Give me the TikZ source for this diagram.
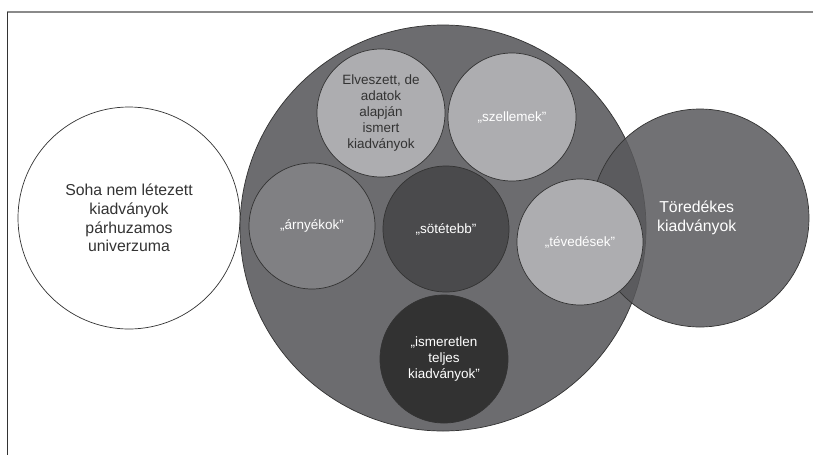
\documentclass[tikz,border=0pt]{standalone}
\usepackage{fontspec}
\setmainfont{Liberation Sans}
\usetikzlibrary{positioning}
\definecolor{framegray}{HTML}{8A8A8A}
\definecolor{edgegray}{HTML}{333333}
\definecolor{outergray}{HTML}{6C6C6F}
\definecolor{fraggray}{HTML}{59595C}
\definecolor{lightgray}{HTML}{ADADB0}
\definecolor{midgray}{HTML}{808083}
\definecolor{darkgray}{HTML}{4A4A4C}
\definecolor{deepgray}{HTML}{323232}
\tikzset {
  % one set of publications
  set/.style = {
    draw = edgegray,
    circle,
    line width = 0.6pt,
    inner sep = 0,
    align = center
  },
  % big sets outside
  bigset/.style = {
    set,
    font = \fontsize{13.5}{16}\selectfont
  },
  % small sets inside the big circle
  subset/.style = {
    set,
    minimum size = 38.4mm,
    font = \fontsize{11.5}{13.8}\selectfont,
    text = white
  }
}

\begin{document}
\begin{tikzpicture}[x=0.3mm, y=-0.3mm]
    \useasboundingbox (0,0) rectangle (813,455);
    \fill[white] (0,0) rectangle (813,455);
    \draw[framegray, line width = 0.9pt] (7,12) -- (813,12);
    \draw[edgegray, line width = 0.7pt] (7,12) -- (7,455);

    \node[bigset, fill = white, text = edgegray, minimum size = 66.6mm] (never) at (129,218)
      {Soha nem létezett\\kiadványok\\párhuzamos\\univerzuma};
    \node[set, fill = outergray, minimum size = 121.8mm] (known) at (443,228) {};
    \node[bigset, fill = fraggray, fill opacity = 0.85, text opacity = 1, text = white,
      minimum size = 65.4mm] (fragments) at (700,218) {\hspace*{-2mm}Töredékes\\\hspace*{-2mm}kiadványok};

    \node[subset, fill = lightgray, text = edgegray] (lost) at (381,113)
      {Elveszett, de\\adatok\\alapján\\ismert\\kiadványok};
    \node[subset, fill = lightgray] (ghosts) at (512,117) {„szellemek”};
    \node[subset, fill = midgray, minimum size = 37.8mm] (shadows) at (312,226) {„árnyékok”};
    \node[subset, fill = darkgray, minimum size = 37.8mm] (darker) at (446,229) {„sötétebb”};
    \node[subset, fill = lightgray, minimum size = 37.8mm] (errors) at (580,242) {„tévedések”};
    \node[subset, fill = deepgray] (unknown) at (444,359)
      {„ismeretlen\\teljes\\kiadványok”};

  \end{tikzpicture}
\end{document}
